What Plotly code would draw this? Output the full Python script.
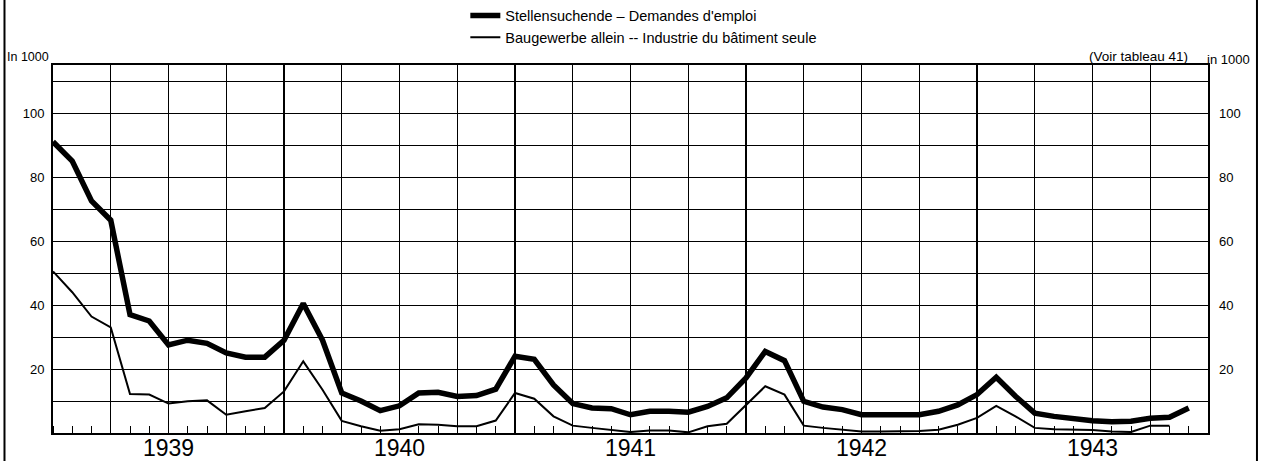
import plotly.graph_objects as go

# ---- data (in 1000) ----
years = [1939, 1940, 1941, 1942, 1943]
# month index: 0 = January 1939 ... 59 = December 1943
month_index = list(range(60))

job_seekers = [
    91.0, 85.0, 72.5, 66.5, 37.0, 35.0, 27.5, 29.0, 28.0, 25.0, 23.7, 23.7,   # 1939
    29.0, 40.5, 29.0, 12.5, 10.0, 7.0, 8.5, 12.5, 12.7, 11.4, 11.7, 13.7,     # 1940
    24.0, 23.0, 15.0, 9.2, 7.8, 7.6, 5.7, 6.8, 6.8, 6.5, 8.3, 11.0,           # 1941
    17.2, 25.5, 22.6, 9.9, 8.1, 7.3, 5.7, 5.6, 5.6, 5.7, 6.8, 8.8,            # 1942
    12.0, 17.4, 11.5, 6.2, 5.2, 4.4, 3.8, 3.5, 3.7, 4.6, 4.9, 7.8,            # 1943
]

construction = [
    50.5, 44.0, 36.4, 33.0, 12.2, 12.0, 9.2, 9.9, 10.2, 5.7, 6.8, 7.8,
    13.0, 22.4, 13.5, 3.8, 2.1, 0.7, 1.2, 2.7, 2.6, 2.1, 2.1, 3.9,
    12.5, 10.7, 5.2, 2.3, 1.6, 1.0, 0.3, 0.8, 0.8, 0.2, 2.1, 2.9,
    8.8, 14.6, 12.0, 2.3, 1.6, 1.0, 0.5, 0.5, 0.5, 0.6, 1.0, 2.6,
    4.7, 8.5, 5.2, 1.6, 1.2, 1.1, 0.9, 0.5, 0.3, 2.3, 2.3, None,
]

y_tick_vals = [20, 40, 60, 80, 100]
y_tick_text = ["20", "40", "60", "80", "100"]

series_names = ["Stellensuchende \u2013 Demandes d'emploi",
                "Baugewerbe allein -- Industrie du bâtiment seule"]

FONT = "Liberation Sans, Arial, sans-serif"
n_months = 12 * len(years)
year_centers = [12 * k + 6 for k in range(len(years))]
year_bounds = [12 * k for k in range(1, len(years))]

fig = go.Figure()
fig.add_trace(go.Scatter(x=month_index, y=job_seekers, mode="lines",
                         line=dict(color="black", width=5.5),
                         name=series_names[0]))
fig.add_trace(go.Scatter(x=month_index, y=construction, mode="lines",
                         line=dict(color="black", width=2),
                         name=series_names[1]))
# helper traces so overlay axes are attached
fig.add_trace(go.Scatter(x=[None], y=[None], xaxis="x2", yaxis="y",
                         showlegend=False, hoverinfo="skip"))
fig.add_trace(go.Scatter(x=[None], y=[None], xaxis="x3", yaxis="y",
                         showlegend=False, hoverinfo="skip"))
fig.add_trace(go.Scatter(x=[None], y=[None], xaxis="x", yaxis="y2",
                         showlegend=False, hoverinfo="skip"))

fig.update_layout(
    width=1267, height=461,
    margin=dict(l=53, r=59, t=65, b=28, autoexpand=False),
    paper_bgcolor="white", plot_bgcolor="white",
    font=dict(family=FONT, color="black", size=12),
    showlegend=True,
    legend=dict(x=0.357, y=1.178, xanchor="left", yanchor="top",
                orientation="v", bgcolor="rgba(0,0,0,0)",
                font=dict(size=14.5, family=FONT), tracegroupgap=0),
    xaxis=dict(range=[0, n_months], tickmode="array", tickvals=year_centers,
               ticktext=[str(y) for y in years], ticks="", showgrid=False,
               zeroline=False, tickfont=dict(size=23, family=FONT),
               automargin=False, ticklabelstandoff=-7,
               showline=True, linecolor="black", linewidth=2, mirror=True,
               minor=dict(tickmode="linear", tick0=0, dtick=1, ticks="inside",
                          ticklen=7, tickcolor="black", tickwidth=1.2,
                          showgrid=False)),
    xaxis2=dict(range=[0, n_months], overlaying="x", anchor="y",
                tickmode="linear", tick0=0, dtick=3, showgrid=True,
                gridcolor="black", gridwidth=1, showticklabels=False,
                ticks="", zeroline=False, showline=False, automargin=False),
    xaxis3=dict(range=[0, n_months], overlaying="x", anchor="y",
                tickmode="array", tickvals=year_bounds, showgrid=True,
                gridcolor="black", gridwidth=2, showticklabels=False,
                ticks="", zeroline=False, showline=False, automargin=False),
    yaxis=dict(range=[0, 115], tickmode="array", tickvals=y_tick_vals,
               ticktext=y_tick_text, ticks="", showgrid=True,
               gridcolor="black", gridwidth=1, zeroline=False,
               tickfont=dict(size=13, family=FONT), ticklabelstandoff=4,
               automargin=False,
               showline=True, linecolor="black", linewidth=2, mirror=True,
               minor=dict(tickmode="linear", tick0=0, dtick=10, showgrid=True,
                          gridcolor="black", gridwidth=1, ticks="")),
    yaxis2=dict(range=[0, 115], overlaying="y", side="right", anchor="x",
                tickmode="array", tickvals=y_tick_vals, ticktext=y_tick_text,
                ticks="", showgrid=False, zeroline=False, automargin=False,
                tickfont=dict(size=13, family=FONT), ticklabelstandoff=10),
    annotations=[
        dict(text="In 1000", xref="paper", yref="paper", x=-0.0416, y=1.022,
             xanchor="left", yanchor="middle", showarrow=False,
             font=dict(size=12.5, family=FONT)),
        dict(text="in 1000", xref="paper", yref="paper", x=0.9974, y=1.016,
             xanchor="left", yanchor="middle", showarrow=False,
             font=dict(size=13, family=FONT)),
        dict(text="(Voir tableau 41)", xref="paper", yref="paper", x=0.9844,
             y=1.022, xanchor="right", yanchor="middle", showarrow=False,
             font=dict(size=13.5, family=FONT)),
    ],
    shapes=[
        dict(type="line", xref="paper", yref="paper", x0=-0.042, x1=-0.042,
             y0=-0.08, y1=1.18, line=dict(color="black", width=2)),
        dict(type="line", xref="paper", yref="paper", x0=1.0424, x1=1.0424,
             y0=-0.08, y1=1.18, line=dict(color="black", width=2)),
    ],
)

fig.write_html(
    "out.html",
    config={"displayModeBar": False},
    post_script="document.body.style.margin='0';document.body.style.overflow='hidden';",
)
